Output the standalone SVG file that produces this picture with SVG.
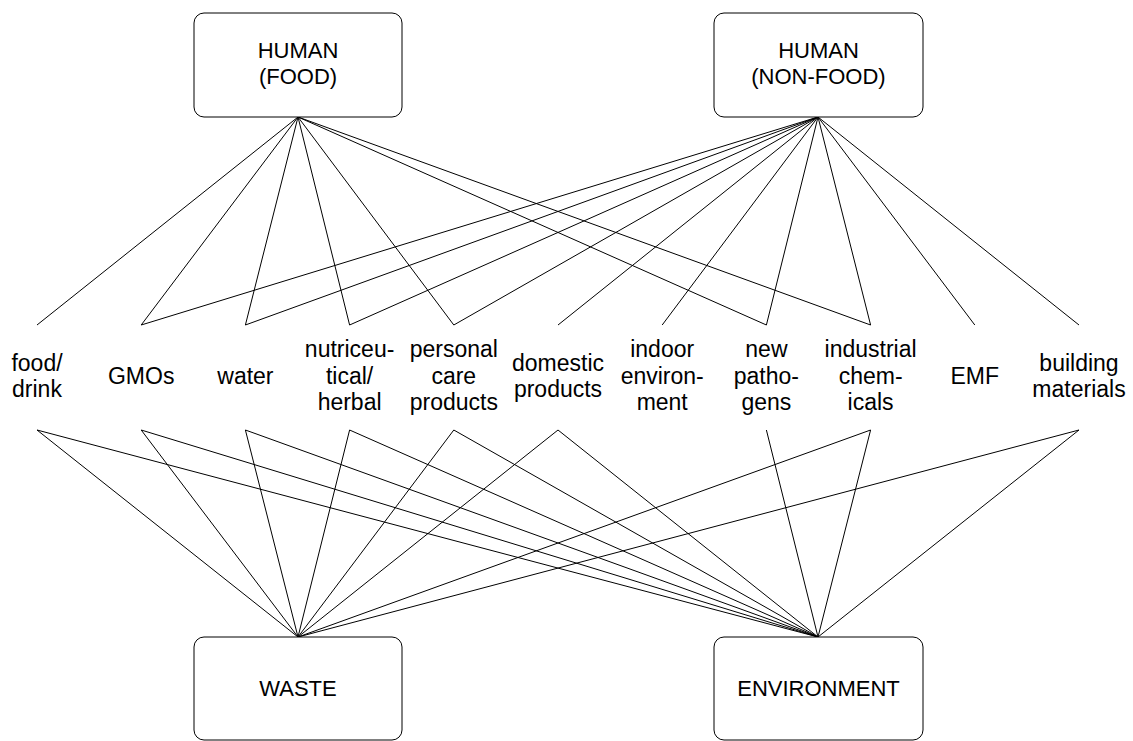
<svg xmlns="http://www.w3.org/2000/svg" width="1133" height="741" viewBox="0 0 1133 741">
<style>
.box{fill:#fff;stroke:#000;stroke-width:1}
.t{font-family:"Liberation Sans",Arial,sans-serif;font-size:23px;fill:#000;text-anchor:middle}
.b{font-size:22px}
.c line{stroke:#000;stroke-width:1}
</style>
<rect width="1133" height="741" fill="#fff"/>
<g class="c" id="connectors">
<line x1="298" y1="117" x2="37" y2="325"/>
<line x1="298" y1="117" x2="141.2" y2="325"/>
<line x1="298" y1="117" x2="245.4" y2="325"/>
<line x1="298" y1="117" x2="349.6" y2="325"/>
<line x1="298" y1="117" x2="453.8" y2="325"/>
<line x1="298" y1="117" x2="766.4" y2="325"/>
<line x1="298" y1="117" x2="870.6" y2="325"/>
<line x1="818" y1="117" x2="141.2" y2="325"/>
<line x1="818" y1="117" x2="245.4" y2="325"/>
<line x1="818" y1="117" x2="349.6" y2="325"/>
<line x1="818" y1="117" x2="453.8" y2="325"/>
<line x1="818" y1="117" x2="558" y2="325"/>
<line x1="818" y1="117" x2="662.2" y2="325"/>
<line x1="818" y1="117" x2="766.4" y2="325"/>
<line x1="818" y1="117" x2="870.6" y2="325"/>
<line x1="818" y1="117" x2="974.8" y2="325"/>
<line x1="818" y1="117" x2="1079" y2="325"/>
<line x1="298" y1="637" x2="37" y2="430"/>
<line x1="298" y1="637" x2="141.2" y2="430"/>
<line x1="298" y1="637" x2="245.4" y2="430"/>
<line x1="298" y1="637" x2="349.6" y2="430"/>
<line x1="298" y1="637" x2="453.8" y2="430"/>
<line x1="298" y1="637" x2="558" y2="430"/>
<line x1="298" y1="637" x2="870.6" y2="430"/>
<line x1="298" y1="637" x2="1079" y2="430"/>
<line x1="818" y1="637" x2="37" y2="430"/>
<line x1="818" y1="637" x2="141.2" y2="430"/>
<line x1="818" y1="637" x2="245.4" y2="430"/>
<line x1="818" y1="637" x2="349.6" y2="430"/>
<line x1="818" y1="637" x2="453.8" y2="430"/>
<line x1="818" y1="637" x2="558" y2="430"/>
<line x1="818" y1="637" x2="766.4" y2="430"/>
<line x1="818" y1="637" x2="870.6" y2="430"/>
<line x1="818" y1="637" x2="1079" y2="430"/>
</g>
<g id="human-food"><rect class="box" x="194" y="13" width="208" height="104" rx="10"/><text class="t b" x="298" y="58">HUMAN</text><text class="t b" x="298" y="84">(FOOD)</text></g>
<g id="human-nonfood"><rect class="box" x="714" y="13" width="209" height="104" rx="10"/><text class="t b" x="818.5" y="58">HUMAN</text><text class="t b" x="818.5" y="84">(NON-FOOD)</text></g>
<g id="waste"><rect class="box" x="194" y="637" width="208" height="103" rx="10"/><text class="t b" x="298" y="696">WASTE</text></g>
<g id="environment"><rect class="box" x="714" y="637" width="209" height="103" rx="10"/><text class="t b" x="818.5" y="696">ENVIRONMENT</text></g>
<g id="food-drink"><text class="t" x="37" y="371">food/</text><text class="t" x="37" y="397">drink</text></g>
<g id="gmos"><text class="t" x="141.2" y="384">GMOs</text></g>
<g id="water"><text class="t" x="245.4" y="384">water</text></g>
<g id="nutriceutical"><text class="t" x="349.6" y="357">nutriceu-</text><text class="t" x="349.6" y="384">tical/</text><text class="t" x="349.6" y="410">herbal</text></g>
<g id="personal-care"><text class="t" x="453.8" y="357">personal</text><text class="t" x="453.8" y="384">care</text><text class="t" x="453.8" y="410">products</text></g>
<g id="domestic"><text class="t" x="558" y="371">domestic</text><text class="t" x="558" y="397">products</text></g>
<g id="indoor"><text class="t" x="662.2" y="357">indoor</text><text class="t" x="662.2" y="384">environ-</text><text class="t" x="662.2" y="410">ment</text></g>
<g id="pathogens"><text class="t" x="766.4" y="357">new</text><text class="t" x="766.4" y="384">patho-</text><text class="t" x="766.4" y="410">gens</text></g>
<g id="industrial"><text class="t" x="870.6" y="357">industrial</text><text class="t" x="870.6" y="384">chem-</text><text class="t" x="870.6" y="410">icals</text></g>
<g id="emf"><text class="t" x="974.8" y="384">EMF</text></g>
<g id="building"><text class="t" x="1079" y="371">building</text><text class="t" x="1079" y="397">materials</text></g>
</svg>
